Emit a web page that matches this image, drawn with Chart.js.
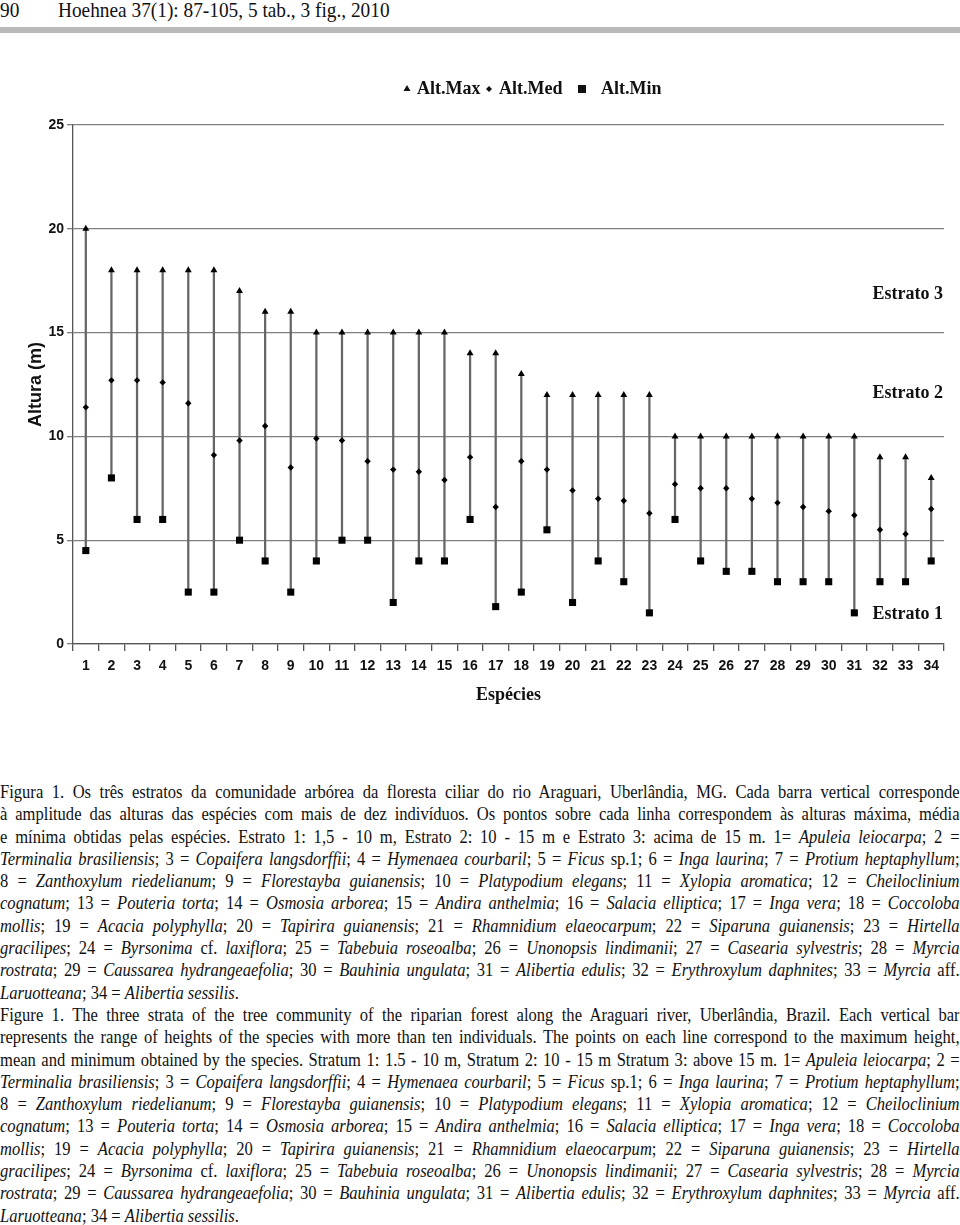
<!DOCTYPE html>
<html>
<head>
<meta charset="utf-8">
<script src="https://cdn.jsdelivr.net/npm/chart.js@4"></script>
<style>
body { margin: 0; background: #fff; width: 960px; height: 1225px; position: relative; overflow: hidden; font-family: "Liberation Serif", serif; color: #111; }
.hd { position: absolute; top: -2px; font-size: 21px; line-height: 25px; white-space: pre; transform: scaleX(0.92); transform-origin: 0 0; }
#rule { position: absolute; left: 0; top: 27px; width: 960px; height: 6px; background: #b9b9b9; }
#wrap { position: absolute; left: 0; top: 0; width: 960px; height: 720px; }
#cap { position: absolute; left: 0; top: 781px; width: 1043px; transform: scaleX(0.92); transform-origin: 0 0; font-size: 18px; line-height: 22.3px; }
#cap div { text-align: justify; text-align-last: justify; height: 22.3px; overflow: hidden; }
#cap div.end { text-align-last: left; }
</style>
</head>
<body>
<div class="hd" style="left:0">90</div>
<div class="hd" style="left:58px">Hoehnea 37(1): 87-105, 5 tab., 3 fig., 2010</div>
<div id="rule"></div>
<div id="wrap"><canvas id="chart"></canvas></div>
<div id="cap">
<div>Figura 1. Os três estratos da comunidade arbórea da floresta ciliar do rio Araguari, Uberlândia, MG. Cada barra vertical corresponde</div>
<div>à amplitude das alturas das espécies com mais de dez indivíduos. Os pontos sobre cada linha correspondem às alturas máxima, média</div>
<div>e mínima obtidas pelas espécies. Estrato 1: 1,5 - 10 m, Estrato 2: 10 - 15 m e Estrato 3: acima de 15 m. 1= <i>Apuleia leiocarpa</i>; 2 =</div>
<div><i>Terminalia brasiliensis</i>; 3 = <i>Copaifera langsdorffii</i>; 4 = <i>Hymenaea courbaril</i>; 5 = <i>Ficus</i> sp.1; 6 = <i>Inga laurina</i>; 7 = <i>Protium heptaphyllum</i>;</div>
<div>8 = <i>Zanthoxylum riedelianum</i>; 9 = <i>Florestayba guianensis</i>; 10 = <i>Platypodium elegans</i>; 11 = <i>Xylopia aromatica</i>; 12 = <i>Cheiloclinium</i></div>
<div><i>cognatum</i>; 13 = <i>Pouteria torta</i>; 14 = <i>Osmosia arborea</i>; 15 = <i>Andira anthelmia</i>; 16 = <i>Salacia elliptica</i>; 17 = <i>Inga vera</i>; 18 = <i>Coccoloba</i></div>
<div><i>mollis</i>; 19 = <i>Acacia polyphylla</i>; 20 = <i>Tapirira guianensis</i>; 21 = <i>Rhamnidium elaeocarpum</i>; 22 = <i>Siparuna guianensis</i>; 23 = <i>Hirtella</i></div>
<div><i>gracilipes</i>; 24 = <i>Byrsonima</i> cf. <i>laxiflora</i>; 25 = <i>Tabebuia roseoalba</i>; 26 = <i>Unonopsis lindimanii</i>; 27 = <i>Casearia sylvestris</i>; 28 = <i>Myrcia</i></div>
<div><i>rostrata</i>; 29 = <i>Caussarea hydrangeaefolia</i>; 30 = <i>Bauhinia ungulata</i>; 31 = <i>Alibertia edulis</i>; 32 = <i>Erythroxylum daphnites</i>; 33 = <i>Myrcia</i> aff.</div>
<div class="end"><i>Laruotteana</i>; 34 = <i>Alibertia sessilis</i>.</div>
<div>Figure 1. The three strata of the tree community of the riparian forest along the Araguari river, Uberlândia, Brazil. Each vertical bar</div>
<div>represents the range of heights of the species with more than ten individuals. The points on each line correspond to the maximum height,</div>
<div>mean and minimum obtained by the species. Stratum 1: 1.5 - 10 m, Stratum 2: 10 - 15 m Stratum 3: above 15 m. 1= <i>Apuleia leiocarpa</i>; 2 =</div>
<div><i>Terminalia brasiliensis</i>; 3 = <i>Copaifera langsdorffii</i>; 4 = <i>Hymenaea courbaril</i>; 5 = <i>Ficus</i> sp.1; 6 = <i>Inga laurina</i>; 7 = <i>Protium heptaphyllum</i>;</div>
<div>8 = <i>Zanthoxylum riedelianum</i>; 9 = <i>Florestayba guianensis</i>; 10 = <i>Platypodium elegans</i>; 11 = <i>Xylopia aromatica</i>; 12 = <i>Cheiloclinium</i></div>
<div><i>cognatum</i>; 13 = <i>Pouteria torta</i>; 14 = <i>Osmosia arborea</i>; 15 = <i>Andira anthelmia</i>; 16 = <i>Salacia elliptica</i>; 17 = <i>Inga vera</i>; 18 = <i>Coccoloba</i></div>
<div><i>mollis</i>; 19 = <i>Acacia polyphylla</i>; 20 = <i>Tapirira guianensis</i>; 21 = <i>Rhamnidium elaeocarpum</i>; 22 = <i>Siparuna guianensis</i>; 23 = <i>Hirtella</i></div>
<div><i>gracilipes</i>; 24 = <i>Byrsonima</i> cf. <i>laxiflora</i>; 25 = <i>Tabebuia roseoalba</i>; 26 = <i>Unonopsis lindimanii</i>; 27 = <i>Casearia sylvestris</i>; 28 = <i>Myrcia</i></div>
<div><i>rostrata</i>; 29 = <i>Caussarea hydrangeaefolia</i>; 30 = <i>Bauhinia ungulata</i>; 31 = <i>Alibertia edulis</i>; 32 = <i>Erythroxylum daphnites</i>; 33 = <i>Myrcia</i> aff.</div>
<div class="end"><i>Laruotteana</i>; 34 = <i>Alibertia sessilis</i>.</div>
</div>
<script>
const species = ["1", "2", "3", "4", "5", "6", "7", "8", "9", "10", "11", "12", "13", "14", "15", "16", "17",
	"18", "19", "20", "21", "22", "23", "24", "25", "26", "27", "28", "29", "30", "31", "32", "33", "34"];
const altMax = [20, 18, 18, 18, 18, 18, 17, 16, 16, 15, 15, 15, 15, 15, 15, 14, 14,
	13, 12, 12, 12, 12, 12, 10, 10, 10, 10, 10, 10, 10, 10, 9, 9, 8];
const altMed = [11.4, 12.7, 12.7, 12.6, 11.6, 9.1, 9.8, 10.5, 8.5, 9.9, 9.8, 8.8, 8.4, 8.3, 7.9, 9.0, 6.6,
	8.8, 8.4, 7.4, 7.0, 6.9, 6.3, 7.7, 7.5, 7.5, 7.0, 6.8, 6.6, 6.4, 6.2, 5.5, 5.3, 6.5];
const altMin = [4.5, 8, 6, 6, 2.5, 2.5, 5, 4, 2.5, 4, 5, 5, 2, 4, 4, 6, 1.8,
	2.5, 5.5, 2, 4, 3, 1.5, 6, 4, 3.5, 3.5, 3, 3, 3, 1.5, 3, 3, 4];
const yTicks = [0, 5, 10, 15, 20, 25];
const strata = ["Estrato 3", "Estrato 2", "Estrato 1"];
const strataAt = [16.85, 12.05, 1.45];

const tickFont = { family: "Liberation Sans", size: 14, weight: "bold" };

// legend and stratum labels drawn by hand, the way the figure has them
const extras = {
	id: "extras",
	afterDraw(chart) {
		const c = chart.ctx;
		c.save();
		c.fillStyle = "#111";
		c.textBaseline = "middle";
		c.font = "bold 18px 'Liberation Serif'";

		const ly = 89;
		c.beginPath();
		c.moveTo(407, ly - 4); c.lineTo(410.5, ly + 2); c.lineTo(403.5, ly + 2); c.closePath(); c.fill();
		c.fillText("Alt.Max", 417, ly);
		c.beginPath();
		c.moveTo(489, ly - 3); c.lineTo(492, ly); c.lineTo(489, ly + 3); c.lineTo(486, ly); c.closePath(); c.fill();
		c.fillText("Alt.Med", 499, ly);
		c.fillRect(578, ly - 4, 8, 8);
		c.fillText("Alt.Min", 601, ly);

		c.textAlign = "right";
		c.font = "bold 18px 'Liberation Serif'";
		const y = chart.scales.y;
		strata.forEach((s, i) => c.fillText(s, 943, y.getPixelForValue(strataAt[i])));
		c.restore();
	},
};

const ctx = document.getElementById("chart").getContext("2d");
new Chart(ctx, {
	type: "bar",
	data: {
		labels: species,
		datasets: [
			{
				type: "line",
				label: "Alt.Max",
				data: altMax,
				showLine: false,
				pointStyle: "triangle",
				pointRadius: 4,
				backgroundColor: "#000",
				borderColor: "#000",
				borderWidth: 0,
				order: 0,
			},
			{
				type: "line",
				label: "Alt.Med",
				data: altMed,
				showLine: false,
				pointStyle: "rectRot",
				pointRadius: 3.2,
				backgroundColor: "#000",
				borderColor: "#000",
				borderWidth: 0,
				order: 0,
			},
			{
				type: "line",
				label: "Alt.Min",
				data: altMin,
				showLine: false,
				pointStyle: "rect",
				pointRadius: 5,
				backgroundColor: "#000",
				borderColor: "#000",
				borderWidth: 0,
				order: 0,
			},
			{
				label: "range",
				data: species.map((_, i) => [altMin[i], altMax[i]]),
				backgroundColor: "#666",
				barThickness: 1.6,
				order: 5,
			},
		],
	},
	options: {
		responsive: true,
		maintainAspectRatio: false,
		animation: false,
		layout: { padding: { top: 125, right: 16, left: 0, bottom: 0 } },
		plugins: { legend: { display: false }, tooltip: { enabled: false } },
		scales: {
			x: {
				offset: true,
				grid: { offset: true, drawOnChartArea: false, tickLength: 7, color: "#555", lineWidth: 1.3 },
				border: { color: "#555", width: 1.3 },
				ticks: { font: tickFont, color: "#111", padding: 7, maxRotation: 0, autoSkip: false },
				title: {
					display: true,
					text: "Espécies",
					color: "#111",
					font: { family: "Liberation Serif", size: 18, weight: "bold" },
					padding: { top: 0, bottom: 14 },
				},
				afterFit(s) { s.height = 76; },
			},
			y: {
				min: 0,
				max: 25,
				afterBuildTicks(s) { s.ticks = yTicks.map((v) => ({ value: v })); },
				grid: { color: "#808080", lineWidth: 1.3, tickLength: 6 },
				border: { color: "#555", width: 1.3 },
				ticks: { font: tickFont, color: "#111", padding: 3 },
				title: {
					display: true,
					text: "Altura (m)",
					color: "#111",
					font: { family: "Liberation Sans", size: 18, weight: "bold" },
					padding: { top: 25, bottom: 0 },
				},
				afterFit(s) { s.width = 73; },
			},
		},
	},
	plugins: [extras],
});
</script>
</body>
</html>
